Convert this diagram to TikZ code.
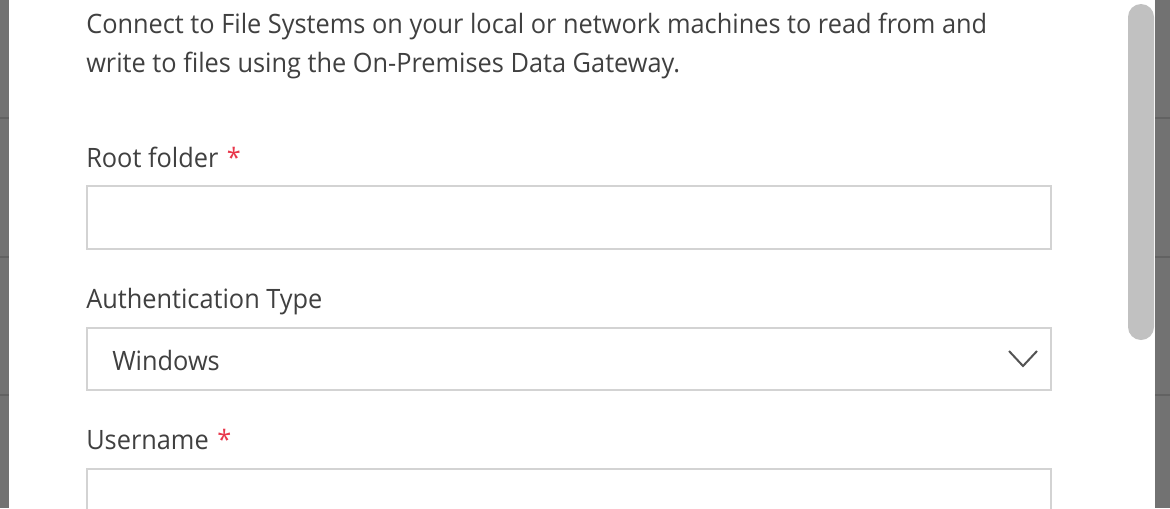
\documentclass[tikz,border=0pt]{standalone}
\usepackage{fontspec}
\setmainfont[FakeStretch=0.95]{Open Sans}
\begin{document}
\begin{tikzpicture}[x=0.75pt,y=-0.75pt,
  txt/.style={anchor=base west,inner sep=0pt,text=txtgray,font=\fontsize{20}{24}\selectfont},
  field/.style={draw=boxgray,line width=1.5pt,fill=white},
  star/.style={anchor=base west,inner sep=0pt,text=reqred,font=\fontsize{20}{24}\selectfont}]
\definecolor{txtgray}{HTML}{404040}
\definecolor{boxgray}{HTML}{D3D3D3}
\definecolor{reqred}{HTML}{E8374B}
\definecolor{strip}{HTML}{727272}
\definecolor{stripline}{HTML}{626262}
\definecolor{thumb}{HTML}{C1C1C1}
\useasboundingbox (0,0) rectangle (1170,508);
\fill[white] (0,0) rectangle (1170,508);
% side strips
\fill[strip] (0,0) rectangle (9,508);
\fill[strip] (1155,0) rectangle (1170,508);
\foreach \yy in {118,257,395} {
  \draw[stripline,line width=1.5pt] (0,\yy) -- (9,\yy);
  \draw[stripline,line width=1.5pt] (1155,\yy) -- (1170,\yy);
}
% scrollbar thumb
\fill[thumb,rounded corners=9.75pt] (1128,4) rectangle (1154,340);
% description
\node[txt] (d1) at (86,33) {Connect to File Systems on your local or network machines to read from and};
\node[txt] (d2) at (86,72) {write to files using the On-Premises Data Gateway.};
% root folder
\node[txt] (l1) at (86,167) {Root folder};
\node[star] (s1) at ([xshift=6pt]l1.base east) {*};
\draw[field] (87,186) rectangle (1051,249);
% auth type
\node[txt] (l2) at (86,308) {Authentication Type};
\draw[field] (87,328) rectangle (1051,390);
\node[txt] (v2) at (112,370) {Windows};
\coordinate (c1) at (1009,351);
\coordinate (c2) at (1023,366);
\coordinate (c3) at (1037,351);
\draw[txtgray!90,line width=1.5pt] (c1) -- (c2) -- (c3);
% username
\node[txt] (l3) at (86,449) {Username};
\node[star] (s3) at ([xshift=6pt]l3.base east) {*};
\draw[field] (87,469) rectangle (1051,520);
\end{tikzpicture}
\end{document}
